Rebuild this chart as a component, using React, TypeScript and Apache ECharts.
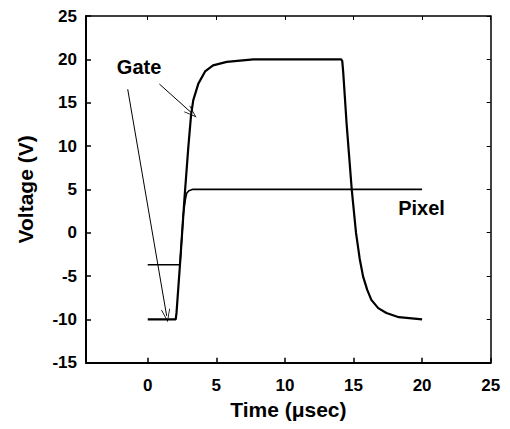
import React, { useEffect, useRef } from "react";
import * as echarts from "echarts";

const xTicks = [0, 5, 10, 15, 20, 25];
const yTicks = [-15, -10, -5, 0, 5, 10, 15, 20, 25];

const gateT = [0, 2.04, 2.1, 2.35, 2.67, 2.96, 3.16, 3.32, 3.69, 4.18, 4.76, 5.76, 7.7, 14.1, 14.18, 14.25, 14.5, 14.87, 15.18, 15.45, 15.7, 16.0, 16.3, 16.8, 17.4, 18.3, 20];
const gateV = [-10, -10, -9.2, -3.7, 3.8, 9.9, 13.6, 15.3, 17.2, 18.6, 19.3, 19.7, 20, 20, 19.8, 18.5, 12.5, 5, 0, -3, -5.07, -6.6, -7.75, -8.7, -9.27, -9.75, -10];

const pixelT = [0, 2.35, 2.6, 2.75, 2.84, 3.0, 3.3, 20];
const pixelV = [-3.7, -3.7, 2.2, 3.9, 4.55, 4.85, 5, 5];

const labelNames = ["Gate", "Pixel"];
const labelT = [-0.63, 19.96];
const labelV = [19.06, 2.85];

const arrowFrom = [[0.85, 17.15], [-1.46, 16.55]];
const arrowTo = [[3.21, 13.8], [1.38, -9.6]];

const FONT = "'Liberation Sans', Arial, sans-serif";

const chevron = "path://M5,0 L0,14 L0.9,14 L5,2.6 L9.1,14 L10,14 Z";

export default function App() {
  const ref = useRef<HTMLDivElement>(null);
  useEffect(() => {
    if (!ref.current) return;
    const chart = echarts.init(ref.current, undefined, { renderer: "svg" });
    const gate = gateT.map((t, i) => [t, gateV[i]]);
    const pixel = pixelT.map((t, i) => [t, pixelV[i]]);
    const labels = labelNames.map((n, i) => ({ value: [labelT[i], labelV[i]], name: n }));
    const arrows = arrowFrom.map((f, i) => [
      { coord: f, symbol: "none" },
      { coord: arrowTo[i], symbol: chevron, symbolSize: [9, 13] },
    ]);
    const axisLine = { show: true, onZero: false, lineStyle: { color: "#000", width: 2 } };
    const axisLine2 = { show: true, onZero: false, lineStyle: { color: "#000", width: 1.5 } };
    chart.setOption({
      animation: false,
      backgroundColor: "#fff",
      grid: { left: 86, right: 19.3, top: 16, bottom: 66.3, show: false },
      xAxis: [
        {
          type: "value",
          min: -4.5,
          max: 25,
          position: "bottom",
          axisLine,
          splitLine: { show: false },
          axisTick: { show: true, inside: true, length: 5, customValues: xTicks, lineStyle: { color: "#000", width: 1.5 } },
          axisLabel: { customValues: xTicks, margin: 14, color: "#000", fontSize: 17, fontWeight: "bold", fontFamily: FONT },
          name: "Time (\u03bcsec)",
          nameLocation: "middle",
          nameGap: 30,
          nameTextStyle: { color: "#000", fontSize: 21, fontWeight: "bold", fontFamily: FONT },
        },
        {
          type: "value",
          min: -4.5,
          max: 25,
          position: "top",
          axisLine: axisLine2,
          splitLine: { show: false },
          axisTick: { show: true, inside: true, length: 4, customValues: xTicks, lineStyle: { color: "#000", width: 1 } },
          axisLabel: { show: false },
        },
      ],
      yAxis: [
        {
          type: "value",
          min: -15,
          max: 25,
          interval: 5,
          position: "left",
          axisLine,
          splitLine: { show: false },
          axisTick: { show: true, inside: true, length: 5, lineStyle: { color: "#000", width: 1.5 } },
          axisLabel: { margin: 9, color: "#000", fontSize: 17, fontWeight: "bold", fontFamily: FONT },
          name: "Voltage (V)",
          nameLocation: "middle",
          nameGap: 50,
          nameTextStyle: { color: "#000", fontSize: 21, fontWeight: "bold", fontFamily: FONT },
        },
        {
          type: "value",
          min: -15,
          max: 25,
          interval: 5,
          position: "right",
          axisLine: axisLine2,
          splitLine: { show: false },
          axisTick: { show: true, inside: true, length: 4, lineStyle: { color: "#000", width: 1 } },
          axisLabel: { show: false },
        },
      ],
      series: [
        {
          name: "Gate",
          type: "line",
          data: gate,
          showSymbol: false,
          symbol: "none",
          lineStyle: { color: "#000", width: 2.2 },
          z: 3,
          markLine: {
            silent: true,
            animation: false,
            symbol: ["none", "none"],
            label: { show: false },
            lineStyle: { color: "#000", width: 1, type: "solid" },
            emphasis: { disabled: true },
            data: arrows,
          },
        },
        {
          name: "Pixel",
          type: "line",
          data: pixel,
          showSymbol: false,
          symbol: "none",
          lineStyle: { color: "#000", width: 1.6 },
          z: 2,
        },
        {
          name: "labels",
          type: "scatter",
          data: labels,
          symbolSize: 0,
          silent: true,
          itemStyle: { color: "#000", opacity: 1 },
          label: {
            show: true,
            position: "inside",
            formatter: (p: any) => p.name,
            color: "#000",
            fontSize: 20,
            fontWeight: "bold",
            fontFamily: FONT,
          },
        },
      ],
    });
    return () => chart.dispose();
  }, []);
  return <div ref={ref} style={{ width: 510, height: 429, position: "absolute", left: 0, top: 0 }} />;
}
